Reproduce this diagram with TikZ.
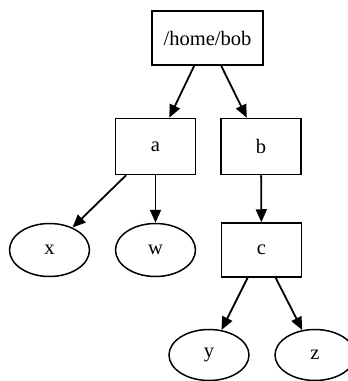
\documentclass[tikz,border=0pt]{standalone}
\usepackage{fontspec}
\setmainfont{Liberation Serif}
\usetikzlibrary{shapes.geometric,arrows.meta}
\begin{document}
\begin{tikzpicture}
    [x=1pt,y=-1pt,
     dir/.style={draw, rectangle, line width=1.5pt,
       inner sep=0pt, minimum width=80pt, minimum height=56pt},
     leaf/.style={draw, ellipse, line width=1.5pt,
       inner sep=0pt, minimum width=80pt, minimum height=53pt},
     link/.style={-{Triangle[length=13pt,width=11pt]}, line width=1.8pt}]
    \useasboundingbox (0,0) rectangle (348,381);
    \fontsize{20.5}{24}\selectfont

    % directories
    \node[dir, minimum width=111pt, minimum height=54pt] (home) at (207.5,38) {/home/bob};
    \node[dir] (a) at (155.5,146.5) {a};
    \node[dir] (b) at (261,146.5) {b};
    \node[dir, minimum height=54pt] (c) at (261.5,250) {c};

    % files
    \node[leaf] (x) at (49.5,250) {x};
    \node[leaf] (w) at (155.5,250) {w};
    \node[leaf, minimum height=51pt] (y) at (209,355) {y};
    \node[leaf, minimum height=51pt] (z) at (315,355) {z};

    \draw[link] (home) -- (a);
    \draw[link] (home) -- (b);
    \draw[link] (a) -- (x);
    \draw[link] (a) -- (w);
    \draw[link] (b) -- (c);
    \draw[link] (c) -- (y);
    \draw[link] (c) -- (z);
  \end{tikzpicture}
\end{document}
